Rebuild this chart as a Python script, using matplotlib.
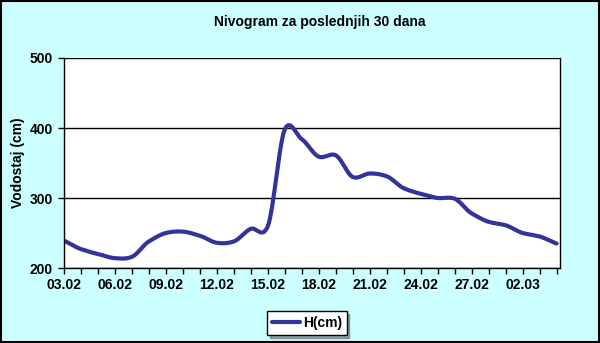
import numpy as np
import matplotlib
matplotlib.use("Agg")
import matplotlib.pyplot as plt
from matplotlib.patches import Rectangle

plt.rcParams['font.family'] = ['Liberation Sans', 'DejaVu Sans']

# ---- data ----
dates = ["03.02", "04.02", "05.02", "06.02", "07.02", "08.02", "09.02", "10.02",
         "11.02", "12.02", "13.02", "14.02", "15.02", "16.02", "17.02", "18.02",
         "19.02", "20.02", "21.02", "22.02", "23.02", "24.02", "25.02", "26.02",
         "27.02", "28.02", "01.03", "02.03", "03.03", "04.03"]
h_cm = [239, 227, 220, 214, 216, 238, 250, 252, 246, 236, 238, 256, 260, 398,
        384, 359, 361, 330, 335, 331, 314, 306, 300, 299, 278, 266, 261, 250,
        245, 235]
title = "Nivogram za poslednjih 30 dana"
ylabel = "Vodostaj (cm)"
legend_label = "H(cm)"
y_ticks = [200, 300, 400, 500]


def smooth(x, y, n=24, c=0.85):
    """Cardinal (Hermite) spline through the points, for drawing only."""
    x = np.asarray(x, float); y = np.asarray(y, float)
    m = np.zeros_like(y)
    m[1:-1] = c * (y[2:] - y[:-2]) / 2.0
    m[0] = c * (y[1] - y[0]); m[-1] = c * (y[-1] - y[-2])
    t = np.linspace(0, 1, n, endpoint=False)
    h00 = 2*t**3 - 3*t**2 + 1; h10 = t**3 - 2*t**2 + t
    h01 = -2*t**3 + 3*t**2; h11 = t**3 - t**2
    xs, ys = [], []
    for i in range(len(y)-1):
        xs.append(x[i] + t*(x[i+1]-x[i]))
        ys.append(h00*y[i] + h10*m[i] + h01*y[i+1] + h11*m[i+1])
    xs.append([x[-1]]); ys.append([y[-1]])
    return np.concatenate(xs), np.concatenate(ys)


fig = plt.figure(figsize=(6.0, 3.43), dpi=100, facecolor="#CCFFFF")
fig.patches.append(Rectangle((0.001, 0.002), 0.997, 0.995, transform=fig.transFigure,
                             fill=False, edgecolor="black", linewidth=1.5))

ax = fig.add_axes([64/600, 1-268/343, (560-64)/600, (268-58)/343])
ax.set_facecolor("white")

xi = np.arange(len(h_cm))
sx, sy = smooth(xi, h_cm)
line, = ax.plot(sx, sy, color="#333399", linewidth=3.0, solid_capstyle="round", label=legend_label)

ax.set_xlim(0, 29.2)
ax.set_ylim(200, 500)
ax.set_yticks(y_ticks)
ax.set_xticks(xi, minor=True)
ax.set_xticks(xi[::3])
ax.set_xticklabels([dates[i] for i in xi[::3]])
ax.grid(axis="y", color="black", linewidth=1.0)
ax.set_axisbelow(True)

for s in ["left", "bottom", "right"]:
    ax.spines[s].set_color("black")
    ax.spines[s].set_linewidth(1.0)
ax.spines["top"].set_visible(False)

ax.tick_params(axis="both", which="both", direction="out", length=4, width=1, color="black")
ax.tick_params(axis="x", which="major", pad=3)
ax.tick_params(axis="y", which="major", pad=4)
for lab in ax.get_xticklabels() + ax.get_yticklabels():
    lab.set_fontweight("bold")
    lab.set_fontsize(10)

ax.set_ylabel(ylabel, fontsize=10, fontweight="bold", labelpad=3)
fig.text(320/600, 1-22/343, title, ha="center", va="center", fontsize=10, fontweight="bold")

leg = fig.legend(handles=[line], loc="center", bbox_to_anchor=(307/600, 1-323/343),
                 frameon=True, fancybox=False, shadow=True, fontsize=10,
                 handlelength=2.0, handletextpad=0.2, borderpad=0.35, edgecolor="black")
leg.get_frame().set_linewidth(1.0)
for t in leg.get_texts():
    t.set_fontweight("bold")

fig.savefig("out.png", dpi=100, facecolor=fig.get_facecolor())
